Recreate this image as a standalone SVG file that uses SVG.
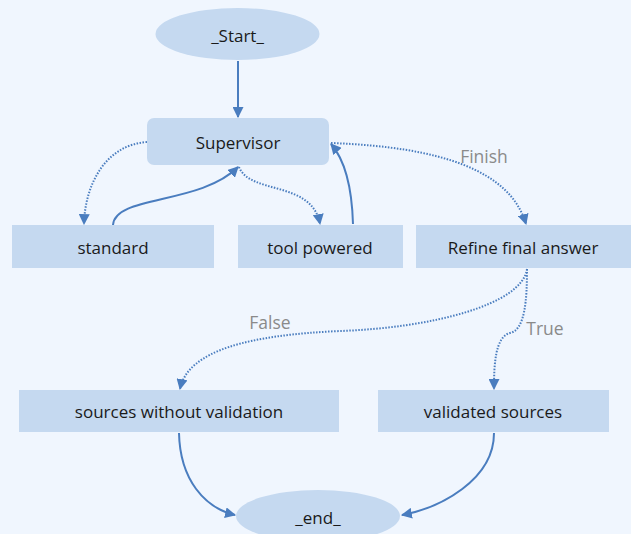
<svg xmlns="http://www.w3.org/2000/svg" width="631" height="534" viewBox="0 0 631 534">
<style>
.node{fill:#c5d9f0;}
.t{font-family:"Open Sans","Noto Sans",sans-serif;font-size:17px;fill:#1a1a1a;text-anchor:middle;dominant-baseline:central;}
.lbl{font-family:"Open Sans","Noto Sans",sans-serif;font-size:17.5px;fill:#8a8a8a;text-anchor:middle;dominant-baseline:central;}
.e{fill:none;stroke:#4a7dbf;stroke-width:2;}
.d{fill:none;stroke:#4a7dbf;stroke-width:2;stroke-dasharray:1.5 1.5;}
</style>
<defs>
<marker id="ah" viewBox="0 0 10 10" refX="9" refY="5" markerWidth="11" markerHeight="11" markerUnits="userSpaceOnUse" orient="auto">
<path d="M0,0 L10,5 L0,10 Z" fill="#4a7dbf"/>
</marker>
</defs>
<rect width="631" height="534" fill="#f0f6fe"/>
<g id="connectors">
<path class="e" d="M238,61 L238,117" marker-end="url(#ah)"/>
<path class="d" d="M147,142 C105,145 85,185 84,224" marker-end="url(#ah)"/>
<path class="e" d="M113,225 C115,195 200,205 238,167" marker-end="url(#ah)"/>
<path class="d" d="M239,167 C250,195 312,180 320,224" marker-end="url(#ah)"/>
<path class="e" d="M353,224 C352,190 345,160 331,144" marker-end="url(#ah)"/>
<path class="d" d="M331,143 C440,147 510,170 526,224" marker-end="url(#ah)"/>
<path class="d" d="M527,269 C522,305 430,328 340,331 C250,335 188,350 180,389" marker-end="url(#ah)"/>
<path class="d" d="M527,269 C527,300 525,330 510,333 C495,337 494,365 494,389" marker-end="url(#ah)"/>
<path class="e" d="M179,433 C180,480 205,508 235,515" marker-end="url(#ah)"/>
<path class="e" d="M494,433 C494,480 440,508 402,515" marker-end="url(#ah)"/>
<text class="lbl" x="484" y="156">Finish</text>
<text class="lbl" x="270" y="322">False</text>
<text class="lbl" x="545" y="328">True</text>
</g>
<g id="start"><ellipse class="node" cx="237.5" cy="34" rx="82" ry="26"/><text class="t" x="237.5" y="35">_Start_</text></g>
<g id="supervisor"><rect class="node" x="147" y="118" width="182" height="47" rx="7"/><text class="t" x="238" y="142">Supervisor</text></g>
<g id="standard"><rect class="node" x="12" y="225" width="202" height="43"/><text class="t" x="113" y="247">standard</text></g>
<g id="tool"><rect class="node" x="238" y="225" width="165" height="43"/><text class="t" x="320" y="247">tool powered</text></g>
<g id="refine"><rect class="node" x="416" y="225" width="215" height="43"/><text class="t" x="523" y="247">Refine final answer</text></g>
<g id="sources"><rect class="node" x="19" y="390" width="320" height="42"/><text class="t" x="179" y="411">sources without validation</text></g>
<g id="validated"><rect class="node" x="378" y="390" width="231" height="42"/><text class="t" x="493" y="411">validated sources</text></g>
<g id="end"><ellipse class="node" cx="318" cy="516" rx="82" ry="26"/><text class="t" x="318" y="517">_end_</text></g>
</svg>
